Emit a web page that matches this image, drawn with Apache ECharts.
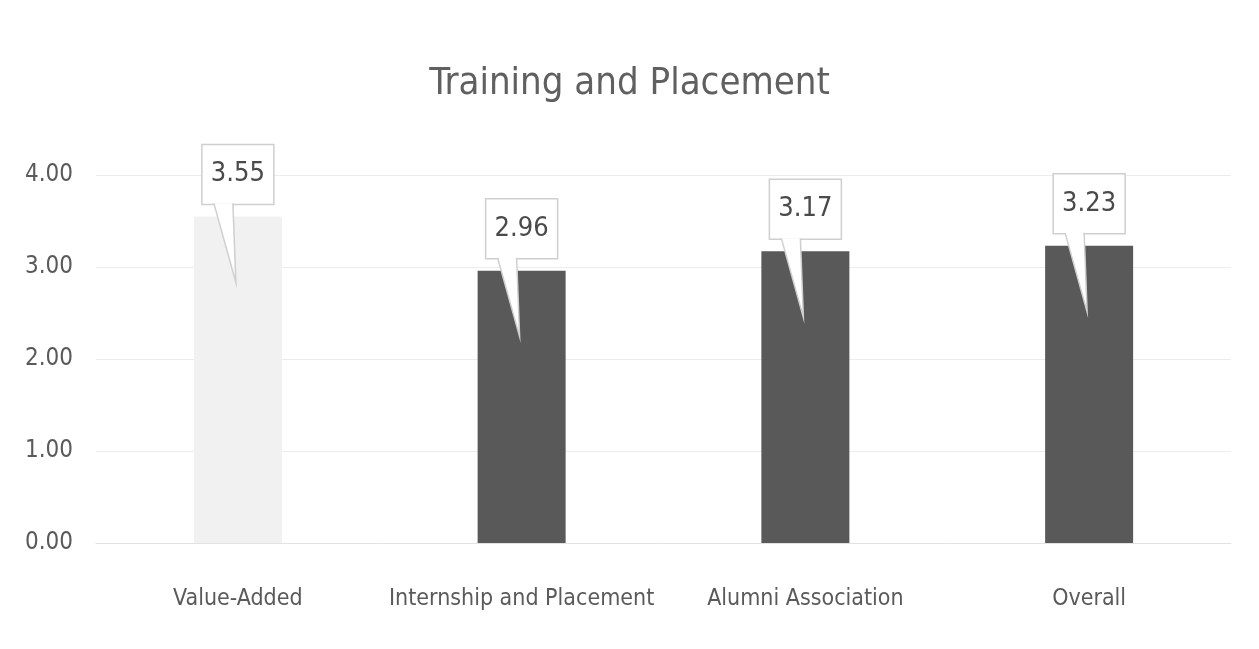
<!DOCTYPE html>
<html>
<head>
<meta charset="utf-8">
<script src="https://cdn.jsdelivr.net/npm/echarts@6/dist/echarts.min.js"></script>
<style>
  html, body { margin: 0; padding: 0; background: #fff; }
  #chart { width: 1259px; height: 649px; }
</style>
</head>
<body>
<div id="chart"></div>
<script>
const categories = ['Value-Added', 'Internship and Placement', 'Alumni Association', 'Overall']
const scores = [3.55, 2.96, 3.17, 3.23]
const barColors = ['#f1f1f1', '#595959', '#595959', '#595959']
const yTicks = [0, 1, 2, 3, 4]

const font = '"Liberation Sans Narrow", "DejaVu Sans Condensed", sans-serif'
const textGray = '#5a5a5a'

const chart = echarts.init(document.getElementById('chart'))

// callout box + pointer, placed from the value through the axes
function renderCallout(params, api) {
  const p = api.coord([api.value(0), api.value(1)])
  const w = 72
  const h = 60
  const gap = 12
  const bottom = p[1] - gap
  const top = bottom - h
  const left = p[0] - w / 2
  const tip = [p[0] - 2, p[1] + 66]
  const b1 = [p[0] - 24, bottom - 1]
  const b2 = [p[0] - 5, bottom - 1]
  return {
    type: 'group',
    children: [
      {
        type: 'rect',
        shape: { x: left, y: top, width: w, height: h },
        style: { fill: '#fff', stroke: '#cfcfcf', lineWidth: 1.5 },
        textContent: {
          style: { text: api.value(1).toFixed(2), fill: '#4a4a4a', fontSize: 27, fontFamily: font }
        },
        textConfig: { position: 'inside' }
      },
      {
        type: 'polygon',
        shape: { points: [b1, tip, b2] },
        style: { fill: '#fff', stroke: null }
      },
      {
        type: 'polyline',
        shape: { points: [b1, tip, b2] },
        style: { fill: null, stroke: '#cfcfcf', lineWidth: 1.5 }
      }
    ]
  }
}

chart.setOption({
  animation: false,
  backgroundColor: '#fff',
  title: {
    text: 'Training and Placement',
    left: 'center',
    top: 60,
    textStyle: {
      color: '#606060',
      fontWeight: 'normal',
      fontSize: 38,
      fontFamily: font
    }
  },
  grid: {
    left: 96,
    right: 28,
    top: 175,
    bottom: 106
  },
  xAxis: {
    type: 'category',
    data: categories,
    axisLine: { show: true, lineStyle: { color: '#e2e2e2' } },
    axisTick: { show: false },
    axisLabel: {
      interval: 0,
      color: textGray,
      fontSize: 23,
      fontFamily: font,
      margin: 45
    }
  },
  yAxis: {
    type: 'value',
    min: yTicks[0],
    max: yTicks[yTicks.length - 1],
    interval: 1,
    axisLine: { show: false },
    axisTick: { show: false },
    splitLine: { lineStyle: { color: '#ececec' } },
    axisLabel: {
      color: textGray,
      fontSize: 24,
      fontFamily: font,
      margin: 23,
      formatter: v => v.toFixed(2)
    }
  },
  series: [
    {
      type: 'bar',
      barWidth: 88,
      data: scores.map((v, i) => ({ value: v, itemStyle: { color: barColors[i] } }))
    },
    {
      type: 'custom',
      renderItem: renderCallout,
      encode: { x: 0, y: 1 },
      z: 5,
      data: scores.map((v, i) => [i, v])
    }
  ]
})
</script>
</body>
</html>
